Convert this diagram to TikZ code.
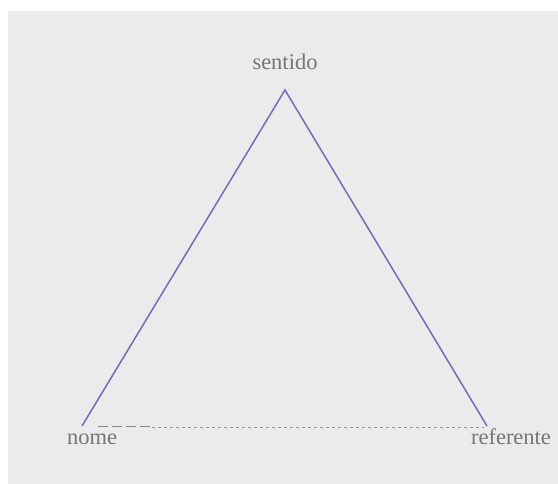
\documentclass[tikz,border=0pt]{standalone}
\usepackage{fontspec}
\setmainfont{Liberation Serif}
\usepackage{xcolor}
\usepackage{tikz}
\usetikzlibrary{positioning}
\definecolor{bggray}  {RGB}{235,235,235}
\definecolor{triblue} {RGB}{116,108,180}
\definecolor{txtgray} {RGB}{118,118,118}
\definecolor{dashgray}{RGB}{150,150,150}
\tikzset{
  lbl/.style    ={inner sep=0pt, text=txtgray,
                  font=\fontsize{22.5}{26}\selectfont},
  triedge/.style={draw=triblue, line width=1.5pt, line join=miter},
  baseln/.style ={draw=dashgray, line width=0.8pt, dash pattern=on 3pt off 3pt},
  longdsh/.style={draw=dashgray!90!black, line width=1pt, dash pattern=on 10pt off 4pt},
}
\begin{document}
\begin{tikzpicture}[x=1pt,y=-1pt]
  \useasboundingbox (0,0) rectangle (558,484);
  \fill[bggray] (8,11) rectangle (558,484);
  %% corners of the triangle
  \coordinate (st) at (285,90);
  \coordinate (nm) at (82,426);
  \coordinate (rf) at (487,426);
  %% base line points
  \coordinate (b1) at (98,427);
  \coordinate (b2) at (152,427);
  \coordinate (b3) at (484,427);
  \node[lbl, above=20pt of st] (sentido) {sentido};
  \node[lbl, anchor=base] (nome) at (92,445) {nome};
  \node[lbl, anchor=base] (referente) at (511,445) {referente};
  \draw[triedge] (nm) -- (st) -- (rf);
  \draw[longdsh] (b1) -- (b2);
  \draw[baseln] (b2) -- (b3);
\end{tikzpicture}
\end{document}
